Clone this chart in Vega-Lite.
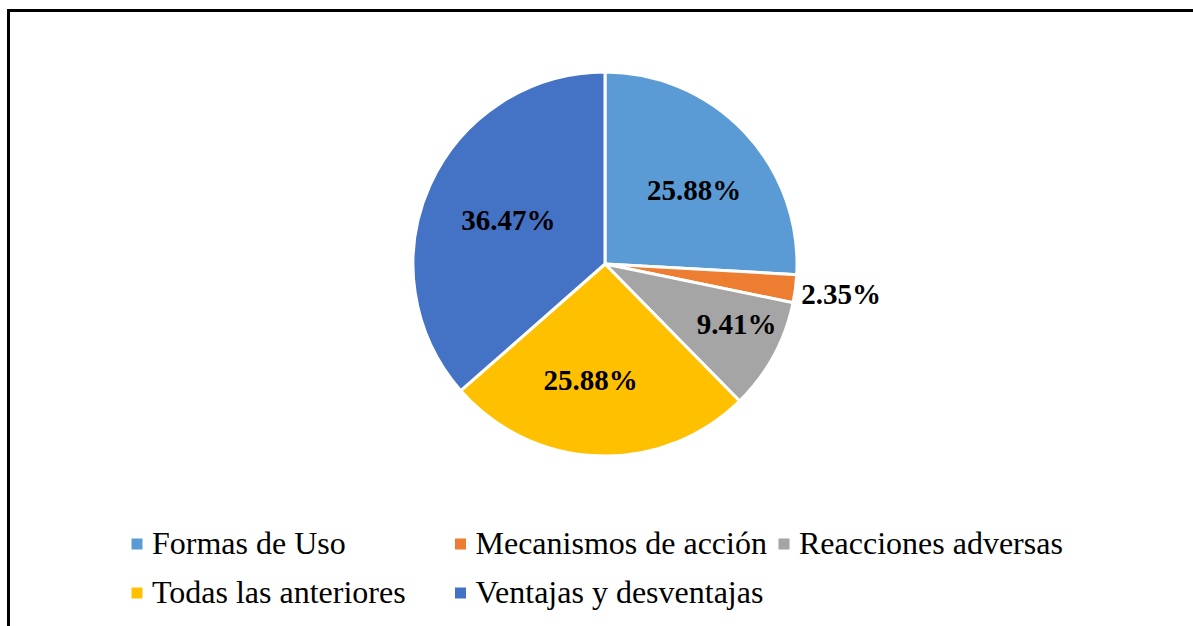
{
  "$schema": "https://vega.github.io/schema/vega-lite/v6.json",
  "width": 1193,
  "height": 625.5,
  "autosize": {"type": "none"},
  "padding": {"left": 8.5, "top": 10.5, "right": -8.5, "bottom": -10},
  "background": "white",
  "config": {"view": {"stroke": null}},
  "data": {
    "values": [
      {"cat": "Formas de Uso", "pct": 0.2588},
      {"cat": "Mecanismos de acción", "pct": 0.0235},
      {"cat": "Reacciones adversas", "pct": 0.0941},
      {"cat": "Todas las anteriores", "pct": 0.2588},
      {"cat": "Ventajas y desventajas", "pct": 0.3647}
    ]
  },
  "layer": [
    {
      "data": {"values": [{"frame": 1}]},
      "mark": {"type": "rect", "filled": false, "stroke": "black", "strokeWidth": 3},
      "encoding": {}
    },
    {
      "mark": {"type": "arc", "outerRadius": 192, "stroke": "white", "strokeWidth": 3, "yOffset": -59.25},
      "encoding": {
        "theta": {"field": "pct", "type": "quantitative", "stack": true},
        "order": {"field": "cat", "type": "nominal", "sort": "ascending"},
        "color": {
          "field": "cat",
          "type": "nominal",
          "scale": {
            "domain": ["Formas de Uso", "Mecanismos de acción", "Reacciones adversas", "Todas las anteriores", "Ventajas y desventajas"],
            "range": ["#5B9BD5", "#ED7D31", "#A5A5A5", "#FFC000", "#4472C4"]
          },
          "legend": {
            "title": null,
            "orient": "none",
            "direction": "horizontal",
            "legendX": 112.5,
            "legendY": 517.5,
            "columns": 3,
            "gridAlign": "all",
            "columnPadding": 0.5,
            "rowPadding": 17,
            "padding": 0,
            "symbolType": "square",
            "symbolSize": 121,
            "symbolStrokeWidth": 0,
            "labelFont": "Liberation Serif",
            "labelFontSize": 32,
            "labelColor": "black",
            "labelOffset": -1,
            "labelLimit": 600
          }
        }
      }
    },
    {
      "mark": {"type": "text", "radius": 106, "dx": 12, "yOffset": -59.25, "font": "Liberation Serif", "fontWeight": "bold", "fontSize": 29, "color": "black"},
      "encoding": {
        "theta": {"field": "pct", "type": "quantitative", "stack": true},
        "order": {"field": "cat", "type": "nominal", "sort": "ascending"},
        "detail": {"field": "cat", "type": "nominal"},
        "text": {"condition": {"test": "datum.cat === 'Formas de Uso'", "field": "pct", "type": "quantitative", "format": ".2%"}, "value": ""}
      }
    },
    {
      "mark": {"type": "text", "radius": 238, "yOffset": -59.25, "font": "Liberation Serif", "fontWeight": "bold", "fontSize": 29, "color": "black"},
      "encoding": {
        "theta": {"field": "pct", "type": "quantitative", "stack": true},
        "order": {"field": "cat", "type": "nominal", "sort": "ascending"},
        "detail": {"field": "cat", "type": "nominal"},
        "text": {"condition": {"test": "datum.cat === 'Mecanismos de acción'", "field": "pct", "type": "quantitative", "format": ".2%"}, "value": ""}
      }
    },
    {
      "mark": {"type": "text", "radius": 142, "dx": 7, "dy": -7, "yOffset": -59.25, "font": "Liberation Serif", "fontWeight": "bold", "fontSize": 29, "color": "black"},
      "encoding": {
        "theta": {"field": "pct", "type": "quantitative", "stack": true},
        "order": {"field": "cat", "type": "nominal", "sort": "ascending"},
        "detail": {"field": "cat", "type": "nominal"},
        "text": {"condition": {"test": "datum.cat === 'Reacciones adversas'", "field": "pct", "type": "quantitative", "format": ".2%"}, "value": ""}
      }
    },
    {
      "mark": {"type": "text", "radius": 117, "dx": -10, "yOffset": -59.25, "font": "Liberation Serif", "fontWeight": "bold", "fontSize": 29, "color": "black"},
      "encoding": {
        "theta": {"field": "pct", "type": "quantitative", "stack": true},
        "order": {"field": "cat", "type": "nominal", "sort": "ascending"},
        "detail": {"field": "cat", "type": "nominal"},
        "text": {"condition": {"test": "datum.cat === 'Todas las anteriores'", "field": "pct", "type": "quantitative", "format": ".2%"}, "value": ""}
      }
    },
    {
      "mark": {"type": "text", "radius": 106, "dy": 1, "yOffset": -59.25, "font": "Liberation Serif", "fontWeight": "bold", "fontSize": 29, "color": "black"},
      "encoding": {
        "theta": {"field": "pct", "type": "quantitative", "stack": true},
        "order": {"field": "cat", "type": "nominal", "sort": "ascending"},
        "detail": {"field": "cat", "type": "nominal"},
        "text": {"condition": {"test": "datum.cat === 'Ventajas y desventajas'", "field": "pct", "type": "quantitative", "format": ".2%"}, "value": ""}
      }
    }
  ]
}
